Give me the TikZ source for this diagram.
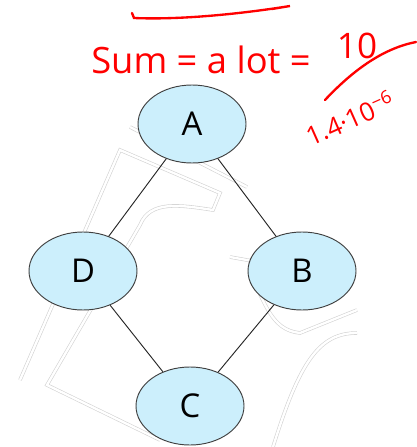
\documentclass[tikz,border=0pt]{standalone}
\usepackage{fontspec}
\setsansfont{Open Sans}
\usetikzlibrary{shapes.geometric}

\begin{document}
\begin{tikzpicture}[x=0.03cm,y=-0.03cm,
  city/.style={ellipse,draw=black!75,fill=cyan!20,thick,inner sep=0pt,
    minimum width=3.24cm,minimum height=2.34cm,
    font=\fontsize{28}{32}\selectfont\sffamily},
  link/.style={draw=black!85,thick},
  road/.style={draw=black!18,double=white,double distance=2pt,line width=0.5pt},
  scribble/.style={red,line width=2pt,line cap=round}]
\useasboundingbox (0,0) rectangle (416,447);

% Faint map outlines behind the graph
\draw[road] (20,380) -- (120,150) -- (220,193) -- (213,210)
  .. controls (180,205) and (150,200) .. (140,225) -- (47,385) -- (160,440);
\draw[road] (130,127) -- (247,187);
\draw[road] (230,257) -- (258,262);
\draw[road] (250,275) .. controls (265,300) and (270,330) .. (300,333) -- (357,310);
\draw[road] (357,333) .. controls (320,333) and (300,360) .. (273,447);

% Four nodes
\node[city] (A) at (192,124) {A};
\node[city] (D) at (83,271) {D};
\node[city] (B) at (302,271) {B};
\node[city] (C) at (190,406) {C};

% Edges of the cycle
\draw[link] (A) -- (B);
\draw[link] (B) -- (C);
\draw[link] (C) -- (D);
\draw[link] (D) -- (A);

% Red notes on top
\draw[scribble] (132,13) -- (134,18) .. controls (180,20) and (240,14) .. (290,6) -- (272,9);
\node[red,font=\fontsize{31}{36}\selectfont\sffamily] (sum) at (201,60) {Sum = a lot =};
\node[red,font=\fontsize{30}{34}\selectfont\sffamily] (num) at (357,46) {10};
\draw[scribble] (325,100) .. controls (355,68) and (385,48) .. (416,42);
\node[red,rotate=24,inner sep=0pt,font=\fontsize{22}{26}\selectfont\sffamily] (den) at (350,118) {1.4·10\textsuperscript{−6}};
\end{tikzpicture}
\end{document}
